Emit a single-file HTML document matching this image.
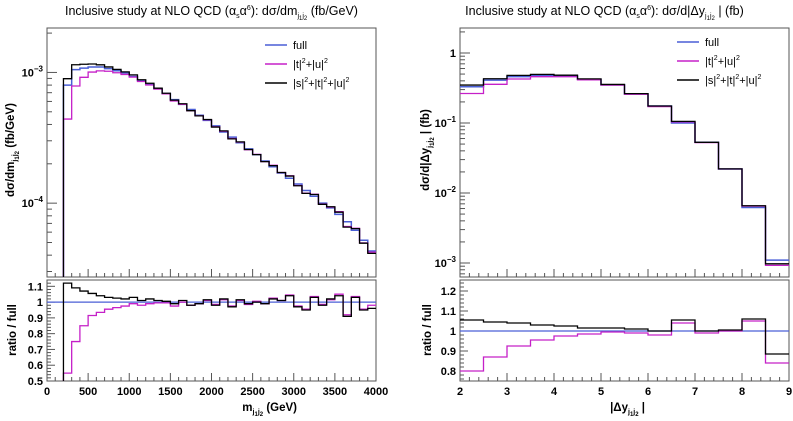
<!DOCTYPE html>
<html><head><meta charset="utf-8">
<style>
html,body{margin:0;padding:0;background:#fff;}
svg{display:block;font-family:"Liberation Sans",sans-serif;}
</style></head>
<body>
<svg id="c" width="793" height="421" viewBox="0 0 793 421"></svg>
<script>
// ---- Left chart data (m_j1j2, bins of 100 GeV starting at 200) ----
const mBinStart = 200, mBinWidth = 100;
const mFull = [0.80,1.05,1.08,1.10,1.10,1.07,1.03,0.99,0.93,0.87,0.81,0.75,0.69,0.62,0.57,0.52,0.47,0.43,0.39,0.35,0.32,0.29,0.26,0.235,0.21,0.19,0.17,0.155,0.14,0.125,0.113,0.10,0.092,0.082,0.072,0.062,0.052,0.043];
const mRatioSTU = [1.12,1.09,1.07,1.055,1.04,1.03,1.025,1.02,1.03,1.01,1.02,1.01,1.005,0.99,1.01,0.98,0.99,1.015,0.98,1.02,0.97,1.015,0.99,1.0,0.99,1.02,1.01,1.04,0.97,0.95,1.03,0.98,1.02,1.04,0.91,1.03,0.95,0.96];
const mRatioTU = [0.55,0.75,0.85,0.915,0.935,0.955,0.965,0.975,0.99,0.98,0.99,0.995,0.995,0.975,1.0,0.98,0.99,1.01,0.985,1.015,0.975,1.01,0.985,1.005,0.99,1.025,1.01,1.045,0.975,0.955,1.035,0.985,1.015,1.05,0.92,1.035,0.955,0.98];
const mXTicks = [0,500,1000,1500,2000,2500,3000,3500,4000];
const mRatioTicks = [0.5,0.6,0.7,0.8,0.9,1,1.1];
// ---- Right chart data (|Δy|, bins of 0.5 starting at 2) ----
const yBinStart = 2, yBinWidth = 0.5;
const yFull = [0.33,0.41,0.46,0.48,0.47,0.42,0.35,0.26,0.175,0.10,0.053,0.022,0.0062,0.0011];
const yRatioSTU = [1.055,1.045,1.04,1.03,1.025,1.015,1.015,1.01,1.0,1.055,1.0,1.005,1.06,0.885];
const yRatioTU = [0.80,0.87,0.925,0.955,0.975,0.985,0.995,0.99,0.98,1.04,0.99,1.0,1.05,0.84];
const yXTicks = [2,3,4,5,6,7,8,9];
const yRatioTicks = [0.8,0.9,1,1.1,1.2];

const NS="http://www.w3.org/2000/svg";
const svg=document.getElementById('c');
function el(tag,attrs,parent){const e=document.createElementNS(NS,tag);for(const k in attrs)e.setAttribute(k,attrs[k]);(parent||svg).appendChild(e);return e;}
function txt(x,y,s,attrs,parent){const t=el('text',Object.assign({x:x,y:y,'font-size':11,fill:'#000'},attrs||{}),parent);t.innerHTML=s;return t;}

const COL={full:'#4a5fd6',tu:'#c520c8',stu:'#000'};

function panel(cfg){
  const g=el('g',{});
  
  
  const L=cfg.x0,R=cfg.x1;
  const xs=v=>L+(v-cfg.xmin)/(cfg.xmax-cfg.xmin)*(R-L);
  const T0=28,T1=277;
  const ly=v=>T1-(Math.log10(v)-cfg.lmin)/(cfg.lmax-cfg.lmin)*(T1-T0);
  const B0=280,B1=381;
  const ry=v=>B1-(v-cfg.rmin)/(cfg.rmax-cfg.rmin)*(B1-B0);
  const f1=el('rect',{x:L,y:T0,width:R-L,height:T1-T0,fill:'none',stroke:'#555','stroke-width':1},g);
  
  const f2=el('rect',{x:L,y:B0,width:R-L,height:B1-B0,fill:'none',stroke:'#555','stroke-width':1},g);
  
  for(let d=Math.floor(cfg.lmin);d<=Math.ceil(cfg.lmax);d++){
    for(let m=1;m<10;m++){
      const v=m*Math.pow(10,d); const lv=Math.log10(v);
      if(lv<cfg.lmin||lv>cfg.lmax)continue;
      const y=ly(v); const len=m===1?10:5;
      el('line',{x1:L,y1:y,x2:L+len,y2:y,stroke:'#555'},g);
      if(m===1){
        const lab = d===0?'1':('10<tspan font-size="8" dy="-5">'+'\u2212'+(-d)+'</tspan>');
        const t=txt(L-4,y+4,lab,{'text-anchor':'end','font-weight':'bold','font-size':11},g);
        
      }
    }
  }
  const nMinor=Math.round((cfg.xmax-cfg.xmin)/cfg.xminor);
  for(let k=0;k<=nMinor;k++){
    const v=cfg.xmin+k*cfg.xminor;
    const major=Math.abs(v/cfg.xmajor-Math.round(v/cfg.xmajor))<1e-6;
    const len=major?8:4;
    el('line',{x1:xs(v),y1:T1,x2:xs(v),y2:T1-len,stroke:'#555'},g);
    el('line',{x1:xs(v),y1:B1,x2:xs(v),y2:B1-len,stroke:'#555'},g);
  }
  cfg.xticks.forEach(v=>{
    const t=txt(xs(v),395,String(v),{'text-anchor':'middle','font-weight':'bold','font-size':11},g);
    
  });
  const r0=Math.ceil(cfg.rmin/cfg.rminor-1e-6);
  for(let k=r0;k*cfg.rminor<=cfg.rmax+1e-9;k++){
    const v=k*cfg.rminor;
    const major=cfg.rticks.some(t=>Math.abs(t-v)<1e-6);
    el('line',{x1:L,y1:ry(v),x2:L+(major?8:4),y2:ry(v),stroke:'#555'},g);
  }
  cfg.rticks.forEach(v=>{
    const t=txt(L-4,ry(v)+4,String(v),{'text-anchor':'end','font-weight':'bold','font-size':11},g);
    
  });
  function hist(vals,yf,color,name,clipTop,clipBot,w){
    let d='';
    const base=clipBot;
    vals.forEach((v,i)=>{
      const xa=xs(cfg.bs+i*cfg.bw), xb=xs(cfg.bs+(i+1)*cfg.bw);
      let y=Math.max(clipTop,Math.min(clipBot,yf(v)));
      if(i===0) d+='M'+xa+','+(cfg.startFromBottom?base:y);
      d+='L'+xa+','+y+'L'+xb+','+y;
    });
    const p=el('path',{d:d,fill:'none',stroke:color,'stroke-width':w||1.3},g);
    
  }
  const tu=cfg.full.map((v,i)=>v*cfg.rtu[i]);
  const stu=cfg.full.map((v,i)=>v*cfg.rstu[i]);
  hist(cfg.full,ly,COL.full,'series-full',T0,T1,1.5);
  hist(tu,ly,COL.tu,'series-t-u',T0,T1);
  hist(stu,ly,COL.stu,'series-s-t-u',T0,T1);
  const one=el('line',{x1:L,y1:ry(1),x2:R,y2:ry(1),stroke:COL.full,'stroke-width':1.3},g);
  
  hist(cfg.rtu,ry,COL.tu,'ratio-t-u',B0,B1);
  hist(cfg.rstu,ry,COL.stu,'ratio-s-t-u',B0,B1);
  const lg=el('g',{},g);
  
  [['full',COL.full,'full'],['|t|<tspan font-size="7" dy="-5">2</tspan><tspan dy="5">+|u|</tspan><tspan font-size="7" dy="-5">2</tspan>',COL.tu,'t-u'],['|s|<tspan font-size="7" dy="-5">2</tspan><tspan dy="5">+|t|</tspan><tspan font-size="7" dy="-5">2</tspan><tspan dy="5">+|u|</tspan><tspan font-size="7" dy="-5">2</tspan>',COL.stu,'s-t-u']].forEach((e,i)=>{
    const y=cfg.legY+i*19;
    const ln=el('line',{x1:cfg.legX,y1:y,x2:cfg.legX+22,y2:y,stroke:e[1],'stroke-width':1.5},lg);
    
    const t=txt(cfg.legX+28,y+4,e[0],{'font-size':11},lg);
    
  });
  const tt=txt((L+R)/2+cfg.titleDx,15,cfg.title,{'text-anchor':'middle','font-size':12.5},g);
  
  const yt=txt(0,0,cfg.ytitle,{'text-anchor':'middle','font-weight':'bold','font-size':11.5,transform:'translate('+cfg.ytx+',150) rotate(-90)'},g);
  
  const rt=txt(0,0,'ratio / full',{'text-anchor':'middle','font-weight':'bold','font-size':11.5,transform:'translate('+(cfg.ytx+2)+',330) rotate(-90)'},g);
  
  const xt=txt(cfg.xtX,411,cfg.xtitle,{'text-anchor':'end','font-weight':'bold','font-size':11.5},g);
  
}

const sub='<tspan font-size="7" dy="3">j</tspan><tspan font-size="6" dy="2">1</tspan><tspan font-size="7" dy="-2">j</tspan><tspan font-size="6" dy="2">2</tspan><tspan dy="-5"> </tspan>';
panel({name:'mjj-panel',x0:47,x1:376,xmin:0,xmax:4000,xmajor:500,xminor:100,xticks:mXTicks,
  lmin:-4.565,lmax:-2.66,rmin:0.5,rmax:1.14,rminor:0.02,rticks:mRatioTicks,
  bs:mBinStart,bw:mBinWidth,full:mFull.map(v=>v*1e-3),rtu:mRatioTU,rstu:mRatioSTU,startFromBottom:true,
  legX:265,legY:45,titleDx:0,
  title:'Inclusive study at NLO QCD (α<tspan font-size="7" dy="3">s</tspan><tspan dy="-3">α</tspan><tspan font-size="7" dy="-5">6</tspan><tspan dy="5">): dσ/dm</tspan>'+sub+'(fb/GeV)',
  ytitle:'dσ/dm'+sub+'(fb/GeV)',ytx:14,xtitle:'m'+sub+'(GeV)',xtX:297});
panel({name:'dy-panel',x0:460,x1:789,xmin:2,xmax:9,xmajor:1,xminor:0.2,xticks:yXTicks,
  lmin:-3.2,lmax:0.357,rmin:0.75,rmax:1.255,rminor:0.02,rticks:yRatioTicks,
  bs:yBinStart,bw:yBinWidth,full:yFull,rtu:yRatioTU,rstu:yRatioSTU,startFromBottom:false,
  legX:677,legY:42,titleDx:-20,
  title:'Inclusive study at NLO QCD (α<tspan font-size="7" dy="3">s</tspan><tspan dy="-3">α</tspan><tspan font-size="7" dy="-5">6</tspan><tspan dy="5">): dσ/d|Δy</tspan>'+sub+'| (fb)',
  ytitle:'dσ/d|Δy'+sub+'| (fb)',ytx:429,xtitle:'|Δy'+sub+'|',xtX:645});
</script>
</body></html>
